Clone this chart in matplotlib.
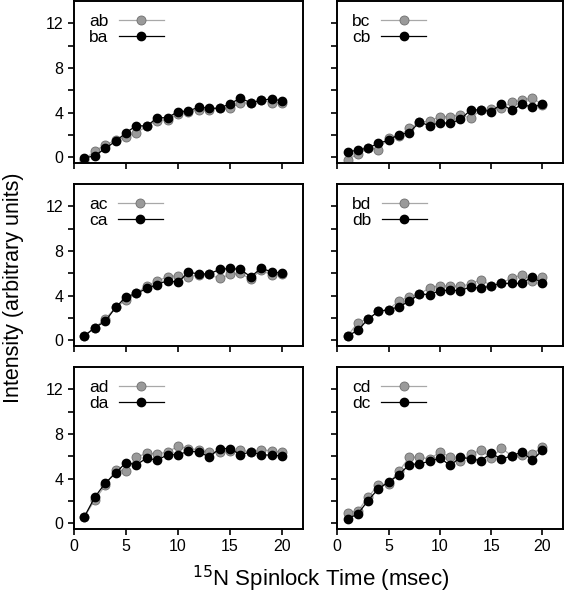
import matplotlib
matplotlib.use("Agg")
import matplotlib.pyplot as plt
import numpy as np

plt.rcParams['font.family'] = ['Liberation Sans', 'DejaVu Sans']

time_ms = list(range(1, 21))

ab = [-0.2, 0.6, 1.1, 1.55, 1.8, 2.2, 2.8, 3.3, 3.35, 3.9, 4.1, 4.25, 4.25, 4.45, 4.4, 4.85, 4.9, 5.1, 4.9, 4.9]
ba = [-0.05, 0.15, 0.8, 1.45, 2.2, 2.85, 2.8, 3.55, 3.55, 4.1, 4.15, 4.5, 4.4, 4.4, 4.8, 5.3, 4.9, 5.1, 5.25, 5.05]

bc = [-0.2, 0.3, 0.85, 0.7, 1.75, 1.9, 2.6, 3.15, 3.25, 3.65, 3.65, 3.8, 3.5, 4.25, 4.3, 4.4, 4.95, 5.1, 5.35, 4.7]
cb = [0.5, 0.65, 0.85, 1.25, 1.55, 2.05, 2.2, 3.15, 2.85, 3.1, 3.05, 3.4, 4.25, 4.25, 4.1, 4.8, 4.2, 4.75, 4.5, 4.75]

ac = [0.4, 1.15, 1.9, 2.95, 3.6, 4.2, 4.9, 5.3, 5.7, 5.8, 5.7, 5.85, 5.9, 5.55, 5.9, 6.0, 5.5, 6.3, 5.85, 5.9]
ca = [0.4, 1.15, 1.7, 2.95, 3.9, 4.2, 4.65, 5.0, 5.35, 5.2, 6.1, 5.95, 5.95, 6.35, 6.45, 6.35, 5.7, 6.45, 6.15, 6.0]

bd = [0.4, 1.6, 1.9, 2.6, 2.75, 3.55, 3.85, 4.15, 4.7, 4.9, 4.85, 4.85, 5.05, 5.45, 4.9, 5.1, 5.6, 5.85, 5.35, 5.7]
db = [0.4, 0.9, 1.9, 2.6, 2.75, 3.0, 3.5, 4.15, 4.1, 4.45, 4.5, 4.45, 4.8, 4.65, 4.9, 5.1, 5.1, 5.1, 5.7, 5.1]

ad = [0.6, 2.1, 3.4, 4.75, 4.7, 5.9, 6.3, 6.2, 6.4, 6.9, 6.7, 6.6, 6.35, 6.35, 6.45, 6.55, 6.4, 6.6, 6.5, 6.35]
da = [0.6, 2.35, 3.6, 4.5, 5.45, 5.25, 5.85, 5.65, 6.15, 6.15, 6.45, 6.4, 5.95, 6.7, 6.7, 6.15, 6.4, 6.15, 6.1, 6.05]

cd = [0.95, 1.1, 2.35, 3.45, 3.55, 4.65, 5.9, 5.95, 5.75, 6.4, 5.95, 5.55, 6.2, 6.55, 5.85, 6.75, 6.05, 6.15, 6.25, 6.8]
dc = [0.4, 0.85, 2.05, 3.1, 3.7, 4.35, 5.25, 5.35, 5.55, 5.85, 5.2, 5.9, 5.8, 5.6, 6.3, 5.75, 6.05, 6.4, 5.65, 6.55]

panels = [
    (("ab", ab), ("ba", ba)),
    (("bc", bc), ("cb", cb)),
    (("ac", ac), ("ca", ca)),
    (("bd", bd), ("db", db)),
    (("ad", ad), ("da", da)),
    (("cd", cd), ("dc", dc)),
]

fig = plt.figure(figsize=(5.67, 6.0), dpi=100)

lefts = [74 / 567, 337.3 / 567]
widths = [228.7 / 567, 225.7 / 567]
tops = [1.0, 184.0, 367.0]
h_px = 162.0

for i, ((g_name, g_vals), k_name_vals) in enumerate(panels):
    k_name, k_vals = k_name_vals
    r, c = divmod(i, 2)
    bottom = 1 - (tops[r] + h_px) / 600
    ax = fig.add_axes([lefts[c], bottom, widths[c], h_px / 600])
    ax.plot(time_ms, g_vals, color='#a8a8a8', lw=0.9, marker='o', ms=6.5,
            mfc='#9a9a9a', mec='#6e6e6e', mew=0.6, label=g_name, zorder=2)
    ax.plot(time_ms, k_vals, color='black', lw=0.9, marker='o', ms=6.0,
            mfc='black', mec='black', label=k_name, zorder=3)
    ax.set_xlim(0, 22)
    ax.set_ylim(-0.5, 14)
    ax.set_xticks([0, 5, 10, 15, 20])
    ax.set_yticks([0, 4, 8, 12])
    ax.set_yticks([2, 6, 10], minor=True)
    ax.tick_params(axis='both', which='both', direction='out', length=4, width=1.2, labelsize=11.5)
    ax.tick_params(axis='y', which='minor', length=4)
    if c == 1:
        ax.set_yticklabels([])
    if r < 2:
        ax.set_xticklabels([])
    for sp in ax.spines.values():
        sp.set_linewidth(1.4)
    ax.legend(loc='upper left', frameon=False, markerfirst=False, fontsize=12.5,
              handlelength=2.6, handletextpad=0.6, labelspacing=0.05,
              borderaxespad=0.2, bbox_to_anchor=(0.02, 0.985))

fig.text(0.023, 0.52, 'Intensity (arbitrary units)', rotation=90, ha='center', va='center', fontsize=15.5)
fig.text(0.565, 0.036, r'$^{15}$N Spinlock Time (msec)', ha='center', va='center', fontsize=16)

fig.savefig('out.png', dpi=100)
